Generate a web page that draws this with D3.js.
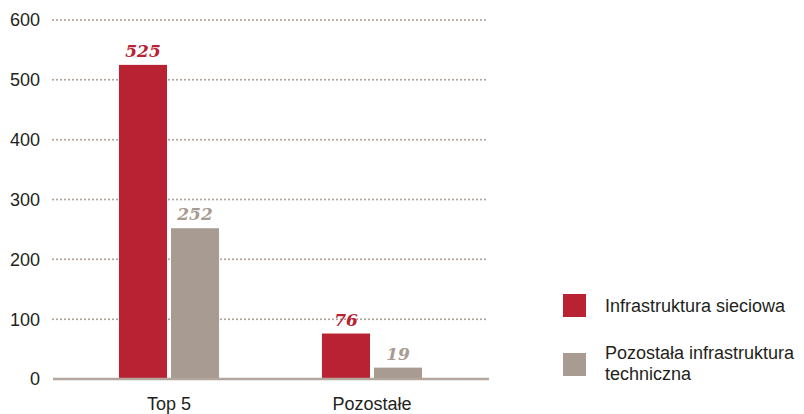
<!DOCTYPE html>
<html>
<head>
<meta charset="utf-8">
<script src="https://cdn.jsdelivr.net/npm/d3@7/dist/d3.min.js"></script>
<style>
  html, body { margin: 0; padding: 0; background: #fff; }
  svg { display: block; }
  .tick-label, .cat-label, .legend-label { font-family: "Liberation Sans", Arial, sans-serif; font-size: 18px; fill: #231f20; }
  .value-label { font-family: "DejaVu Serif", Georgia, serif; font-weight: bold; font-style: italic; font-size: 17px; }
</style>
</head>
<body>
<svg id="chart" width="804" height="414"></svg>
<script>
// Chart data
const categories = ["Top 5", "Pozostałe"];
const seriesNames = ["Infrastruktura sieciowa", "Pozostała infrastruktura techniczna"];
const seriesSieciowa = [525, 76];
const seriesPozostala = [252, 19];
const yTicks = [0, 100, 200, 300, 400, 500, 600];
const legendLines = [["Infrastruktura sieciowa"], ["Pozostała infrastruktura", "techniczna"]];

const colors = ["#b82233", "#a89b91"];
const seriesValues = [seriesSieciowa, seriesPozostala];

const svg = d3.select("#chart");

const y = d3.scaleLinear().domain([0, 600]).range([379, 20]);
const x = d3.scaleBand().domain(categories).range([67, 474]).paddingInner(0.507).paddingOuter(0.256);
const xInner = d3.scaleBand().domain(d3.range(seriesNames.length)).range([0, x.bandwidth()]).paddingInner(0.077);

const gridLeft = 53, gridRight = 489;

// Dotted gridlines (above zero)
svg.append("g").selectAll("line")
  .data(yTicks.filter(t => t > 0))
  .join("line")
  .attr("x1", gridLeft).attr("x2", gridRight)
  .attr("y1", d => y(d)).attr("y2", d => y(d))
  .attr("stroke", "#a89b91")
  .attr("stroke-width", 2)
  .attr("stroke-linecap", "round")
  .attr("stroke-dasharray", "0,4");

// Y tick labels
svg.append("g").selectAll("text")
  .data(yTicks)
  .join("text")
  .attr("class", "tick-label")
  .attr("x", 40)
  .attr("y", d => y(d))
  .attr("dy", "0.36em")
  .attr("text-anchor", "end")
  .text(d => d);

// Bars
const groups = svg.append("g").selectAll("g")
  .data(categories)
  .join("g")
  .attr("transform", d => `translate(${x(d)},0)`);

groups.selectAll("rect")
  .data((c, ci) => seriesValues.map((vals, si) => ({ si, v: vals[ci] })))
  .join("rect")
  .attr("x", d => xInner(d.si))
  .attr("width", xInner.bandwidth())
  .attr("y", d => y(d.v))
  .attr("height", d => y(0) - y(d.v))
  .attr("fill", d => colors[d.si]);

// Value labels
groups.selectAll("text.value-label")
  .data((c, ci) => seriesValues.map((vals, si) => ({ si, v: vals[ci] })))
  .join("text")
  .attr("class", "value-label")
  .attr("x", d => xInner(d.si) + xInner.bandwidth() / 2)
  .attr("y", d => y(d.v) - 8)
  .attr("text-anchor", "middle")
  .attr("fill", d => colors[d.si])
  .text(d => d.v);

// Baseline
svg.append("line")
  .attr("x1", gridLeft).attr("x2", gridRight)
  .attr("y1", y(0)).attr("y2", y(0))
  .attr("stroke", "#b3a79d")
  .attr("stroke-width", 2.5);

// Category labels
svg.append("g").selectAll("text")
  .data(categories)
  .join("text")
  .attr("class", "cat-label")
  .attr("x", d => x(d) + x.bandwidth() / 2)
  .attr("y", 410)
  .attr("text-anchor", "middle")
  .text(d => d);

// Legend
const legendY = [294, 353];
const legend = svg.append("g").selectAll("g")
  .data(seriesNames)
  .join("g")
  .attr("transform", (d, i) => `translate(563,${legendY[i]})`);

legend.append("rect")
  .attr("width", 23).attr("height", 23)
  .attr("fill", (d, i) => colors[i]);

legend.each(function (d, i) {
  const lines = legendLines[i];
  const t = d3.select(this).append("text")
    .attr("class", "legend-label")
    .attr("x", 42)
    .attr("y", lines.length === 1 ? 18 : 6);
  lines.forEach((ln, k) => {
    t.append("tspan").attr("x", 42).attr("dy", k === 0 ? 0 : 21).text(ln);
  });
});
</script>
</body>
</html>
